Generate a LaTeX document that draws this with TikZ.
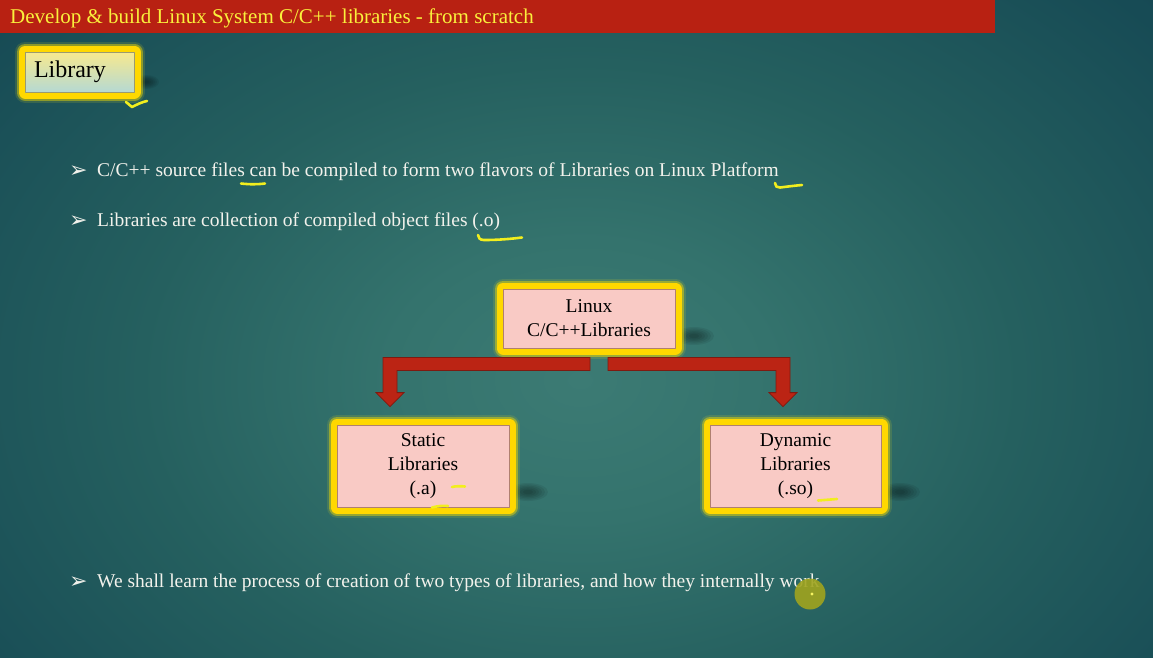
\documentclass[tikz,border=0pt]{standalone}
\usepackage{fontspec}
\setmainfont{Liberation Serif}
\newfontfamily\symfont{DejaVu Sans}
\usetikzlibrary{calc}

% palette
\definecolor{bgA}{HTML}{3C7B74}
\definecolor{bgB}{HTML}{34736D}
\definecolor{bgC}{HTML}{25605F}
\definecolor{bgD}{HTML}{174B55}
\definecolor{bgE}{HTML}{0F3E4A}
\definecolor{bgF}{HTML}{0B3442}
\definecolor{barred}{HTML}{B82112}
\definecolor{titleyellow}{HTML}{FAF03C}
\definecolor{pinkfill}{HTML}{F9CAC5}
\definecolor{pinkedge}{HTML}{B08070}
\definecolor{glowA}{HTML}{FFD800}
\definecolor{glowB}{HTML}{F5DC00}
\definecolor{glowC}{HTML}{E0D820}
\definecolor{libtop}{HTML}{F7E98E}
\definecolor{libbot}{HTML}{B5D9D3}
\definecolor{libedge}{HTML}{9A9A70}
\definecolor{arrowred}{HTML}{BB2414}
\definecolor{arrowedge}{HTML}{7E1A10}
\definecolor{penyellow}{HTML}{F2EE1E}
\definecolor{bodytext}{HTML}{F2F2EC}
\definecolor{pointer}{HTML}{A0A41E}

\pgfdeclareradialshading{bgglow}{\pgfpoint{0bp}{0bp}}{%
  color(0bp)=(bgA); color(8bp)=(bgB); color(18bp)=(bgC);
  color(31bp)=(bgD); color(46bp)=(bgE); color(75bp)=(bgF)}

\tikzset{
  glowbox/.style={line join=round,
    preaction={draw=glowC, line width=21pt, opacity=0.15},
    preaction={draw=glowB, line width=17pt, opacity=0.45},
    preaction={draw=glowA, line width=13pt}},
  pinkbox/.style={glowbox, draw=pinkedge, line width=0.8pt, fill=pinkfill,
    align=center, text=black, inner sep=0pt,
    font=\fontsize{19.5}{24}\selectfont},
  blockarrow/.style={fill=arrowred, draw=arrowedge, line width=0.8pt},
  bodyline/.style={anchor=base west, inner sep=0pt, text=bodytext,
    font=\fontsize{19.5}{24}\selectfont},
  bulletmark/.style={anchor=base west, inner sep=0pt, text=bodytext,
    font=\symfont\fontsize{22}{24}\selectfont},
  pen/.style={draw=penyellow, line width=2.6pt, line cap=round, line join=round},
  shadowlayer/.style={fill=black, opacity=0.07}
}

% a soft blurred shadow made of stacked translucent ellipses
\newcommand\softblob[3]{%
  \foreach \k in {1.0,0.85,0.7,0.55,0.4,0.25}
    \fill[shadowlayer] (#1) ellipse ({#2*\k} and {#3*\k});}

\begin{document}
\begin{tikzpicture}[x=1pt,y=-1pt]
  % canvas and backdrop
  \useasboundingbox (0,0) rectangle (1153,657);
  \begin{scope}
    \clip (0,0) rectangle (1153,657);
    \shade[shading=bgglow] (-30,-60) rectangle (1190,820);
  \end{scope}

  % title bar
  \fill[barred] (0,0) rectangle (995,33);
  \node[anchor=base west, inner sep=0pt, text=titleyellow,
        font=\fontsize{21}{24}\selectfont] (title) at (10,23)
        {Develop \& build Linux System C/C++ libraries - from scratch};

  % soft drop shadows behind the boxes
  \softblob{694,336}{20}{9}
  \softblob{528,492}{20}{9}
  \softblob{900,492}{20}{9}
  \softblob{146,82}{13}{7}

  % heading box
  \node[glowbox, draw=libedge, line width=0.8pt, top color=libtop,
        bottom color=libbot, minimum height=40pt, text width=91pt,
        inner xsep=9pt, inner ysep=0pt, align=left,
        font=\fontsize{24}{26}\selectfont] (lib) at (79.5,72) {Library};

  % bullet points
  \node[bulletmark] (b1) at (69,177) {➢};
  \node[bodyline] (t1) at (97,176)
    {C/C++ source files can be compiled to form two flavors of Libraries on Linux Platform};
  \node[bulletmark] (b2) at (69,227) {➢};
  \node[bodyline] (t2) at (97,226)
    {Libraries are collection of compiled object files (.o)};
  \node[bulletmark] (b3) at (69,588) {➢};
  \node[bodyline] (t3) at (97,587)
    {We shall learn the process of creation of two types of libraries, and how they internally work};

  % library boxes
  \node[pinkbox, minimum width=172pt, minimum height=59pt] (top) at (589,318.5)
    {Linux\\C/C++Libraries};
  \node[pinkbox, minimum width=172pt, minimum height=82pt] (stat) at (423,466)
    {Static\\Libraries\\(.a)};
  \node[pinkbox, minimum width=171pt, minimum height=82pt] (dyn) at (795.5,466)
    {Dynamic\\Libraries\\(.so)};

  % split arrows from the top box down to each flavour
  \coordinate (lA) at ($(top.south)+(1,9)$);
  \coordinate (lT) at ($(stat.north)+(-33,-18)$);
  \coordinate (rA) at ($(top.south)+(19,9)$);
  \coordinate (rT) at ($(dyn.north)+(-12.5,-18)$);

  \draw[blockarrow] (lA) -- ($(lA -| lT)+(-7,0)$) -- ($(lT)+(-7,-14)$)
    -- ($(lT)+(-14,-14)$) -- (lT) -- ($(lT)+(14,-14)$) -- ($(lT)+(7,-14)$)
    -- ($(lA -| lT)+(7,13)$) -- ($(lA)+(0,13)$) -- cycle;
  \draw[blockarrow] (rA) -- ($(rA -| rT)+(7,0)$) -- ($(rT)+(7,-14)$)
    -- ($(rT)+(14,-14)$) -- (rT) -- ($(rT)+(-14,-14)$) -- ($(rT)+(-7,-14)$)
    -- ($(rA -| rT)+(-7,13)$) -- ($(rA)+(0,13)$) -- cycle;

  % pen marks
  \draw[pen] (126,102) -- (132,107) .. controls (138,104) and (142,102) .. (147,101);
  \draw[pen] (241,183.5) .. controls (250,184.5) and (257,184.5) .. (265,183.5);
  \draw[pen] (775,183) .. controls (775,186) and (777,188) .. (780,187.5)
    .. controls (788,186.5) and (796,185.5) .. (802,185);
  \draw[pen] (478,235) .. controls (478,238) and (480,240) .. (484,240)
    .. controls (498,240) and (510,239) .. (522,237.5);
  \draw[pen] (452,487) .. controls (456,486) and (461,486) .. (465,486.5);
  \draw[pen] (432,507.5) .. controls (437,506) and (443,505.5) .. (448,506);
  \draw[pen] (818,500.5) .. controls (824,500) and (831,499.5) .. (837,499);

  % pointer
  \fill[pointer, opacity=0.9] (810,594) circle (15.5);
  \fill[penyellow!70!white] (812,594) circle (1.6);
\end{tikzpicture}
\end{document}
